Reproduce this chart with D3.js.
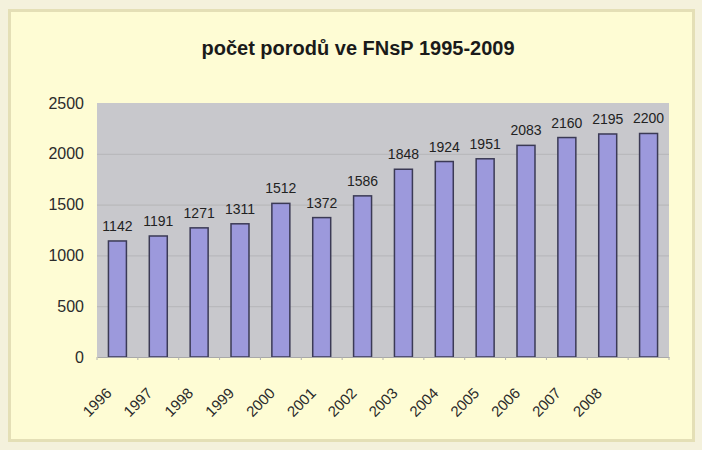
<html>
<head>
<meta charset="utf-8">
<script src="https://d3js.org/d3.v7.min.js"></script>
<style>
body { margin: 0; background: #f4f1dc; }
svg text { font-family: Arial, "Liberation Sans", sans-serif; }
</style>
</head>
<body>
<svg id="chart" width="702" height="450"></svg>
<script>
// values per bar (14 bars, the last one has no year label in the original)
var births = [1142, 1191, 1271, 1311, 1512, 1372, 1586, 1848, 1924, 1951, 2083, 2160, 2195, 2200];
var yearLabels = ["1996", "1997", "1998", "1999", "2000", "2001", "2002", "2003", "2004", "2005", "2006", "2007", "2008"];
var yTicks = [0, 500, 1000, 1500, 2000, 2500];
var title = "počet porodů ve FNsP 1995-2009";

var svg = d3.select("#chart");

// yellow panel
svg.append("rect")
  .attr("x", 9.5).attr("y", 10.5)
  .attr("width", 684).attr("height", 430)
  .attr("fill", "#fefcd4")
  .attr("stroke", "#e4dfb6")
  .attr("stroke-width", 3);

svg.append("text")
  .attr("x", 358).attr("y", 55)
  .attr("text-anchor", "middle")
  .style("font-size", "20px")
  .style("font-weight", "bold")
  .style("fill", "#1a1a1a")
  .text(title);

var plotLeft = 97, plotRight = 669, plotTop = 103, plotBottom = 357;

var idx = births.map(function(d, i) { return i; });

var x = d3.scaleBand().domain(idx).range([plotLeft, plotRight]).paddingInner(0.56).paddingOuter(0.28);
var y = d3.scaleLinear().domain([0, 2500]).range([plotBottom, plotTop]);

// plot area
svg.append("rect")
  .attr("x", plotLeft).attr("y", plotTop)
  .attr("width", plotRight - plotLeft).attr("height", plotBottom - plotTop)
  .attr("fill", "#c8c8cc");

// gridlines
svg.append("g")
  .selectAll("line")
  .data(yTicks.slice(1, -1))
  .enter().append("line")
  .attr("x1", plotLeft).attr("x2", plotRight)
  .attr("y1", function(d) { return y(d) + 0.5; })
  .attr("y2", function(d) { return y(d) + 0.5; })
  .attr("stroke", "#b6b6b8");

// y axis labels
var yAxis = svg.append("g")
  .attr("transform", "translate(" + plotLeft + ",0)")
  .call(d3.axisLeft(y).tickValues(yTicks).tickSize(0).tickPadding(13).tickFormat(d3.format("d")));
yAxis.select(".domain").remove();
yAxis.selectAll("text")
  .style("font-size", "16px")
  .style("font-family", "Arial, 'Liberation Sans', sans-serif")
  .style("fill", "#2b2b2b");

// bars
svg.append("g")
  .selectAll("rect")
  .data(births)
  .enter().append("rect")
  .attr("x", function(d, i) { return x(i); })
  .attr("y", function(d) { return y(d); })
  .attr("width", x.bandwidth())
  .attr("height", function(d) { return plotBottom - y(d); })
  .attr("fill", "#9c99dc")
  .attr("stroke", "#3b3a55")
  .attr("stroke-width", 1.5);

// value labels
svg.append("g")
  .selectAll("text")
  .data(births)
  .enter().append("text")
  .attr("x", function(d, i) { return x(i) + x.bandwidth() / 2; })
  .attr("y", function(d) { return y(d) - 10; })
  .attr("text-anchor", "middle")
  .style("font-size", "14px")
  .style("fill", "#222")
  .text(function(d) { return d; });

// x axis
var xAxis = svg.append("g")
  .attr("transform", "translate(0," + plotBottom + ")")
  .call(d3.axisBottom(x).tickSize(0).tickFormat(function(i) { return yearLabels[i] || ""; }));
xAxis.select(".domain").attr("stroke", "#a8a8a8");
xAxis.selectAll("text")
  .attr("text-anchor", "end")
  .attr("dy", 0)
  .attr("transform", "translate(-7,35) rotate(-45)")
  .style("font-size", "15px")
  .style("font-family", "Arial, 'Liberation Sans', sans-serif")
  .style("fill", "#2b2b2b");

// small ticks between categories
svg.append("g")
  .selectAll("line")
  .data(idx.concat([births.length]))
  .enter().append("line")
  .attr("x1", function(i) { return plotLeft + i * x.step(); })
  .attr("x2", function(i) { return plotLeft + i * x.step(); })
  .attr("y1", plotBottom).attr("y2", plotBottom + 3)
  .attr("stroke", "#b0b0b0");
</script>
</body>
</html>
